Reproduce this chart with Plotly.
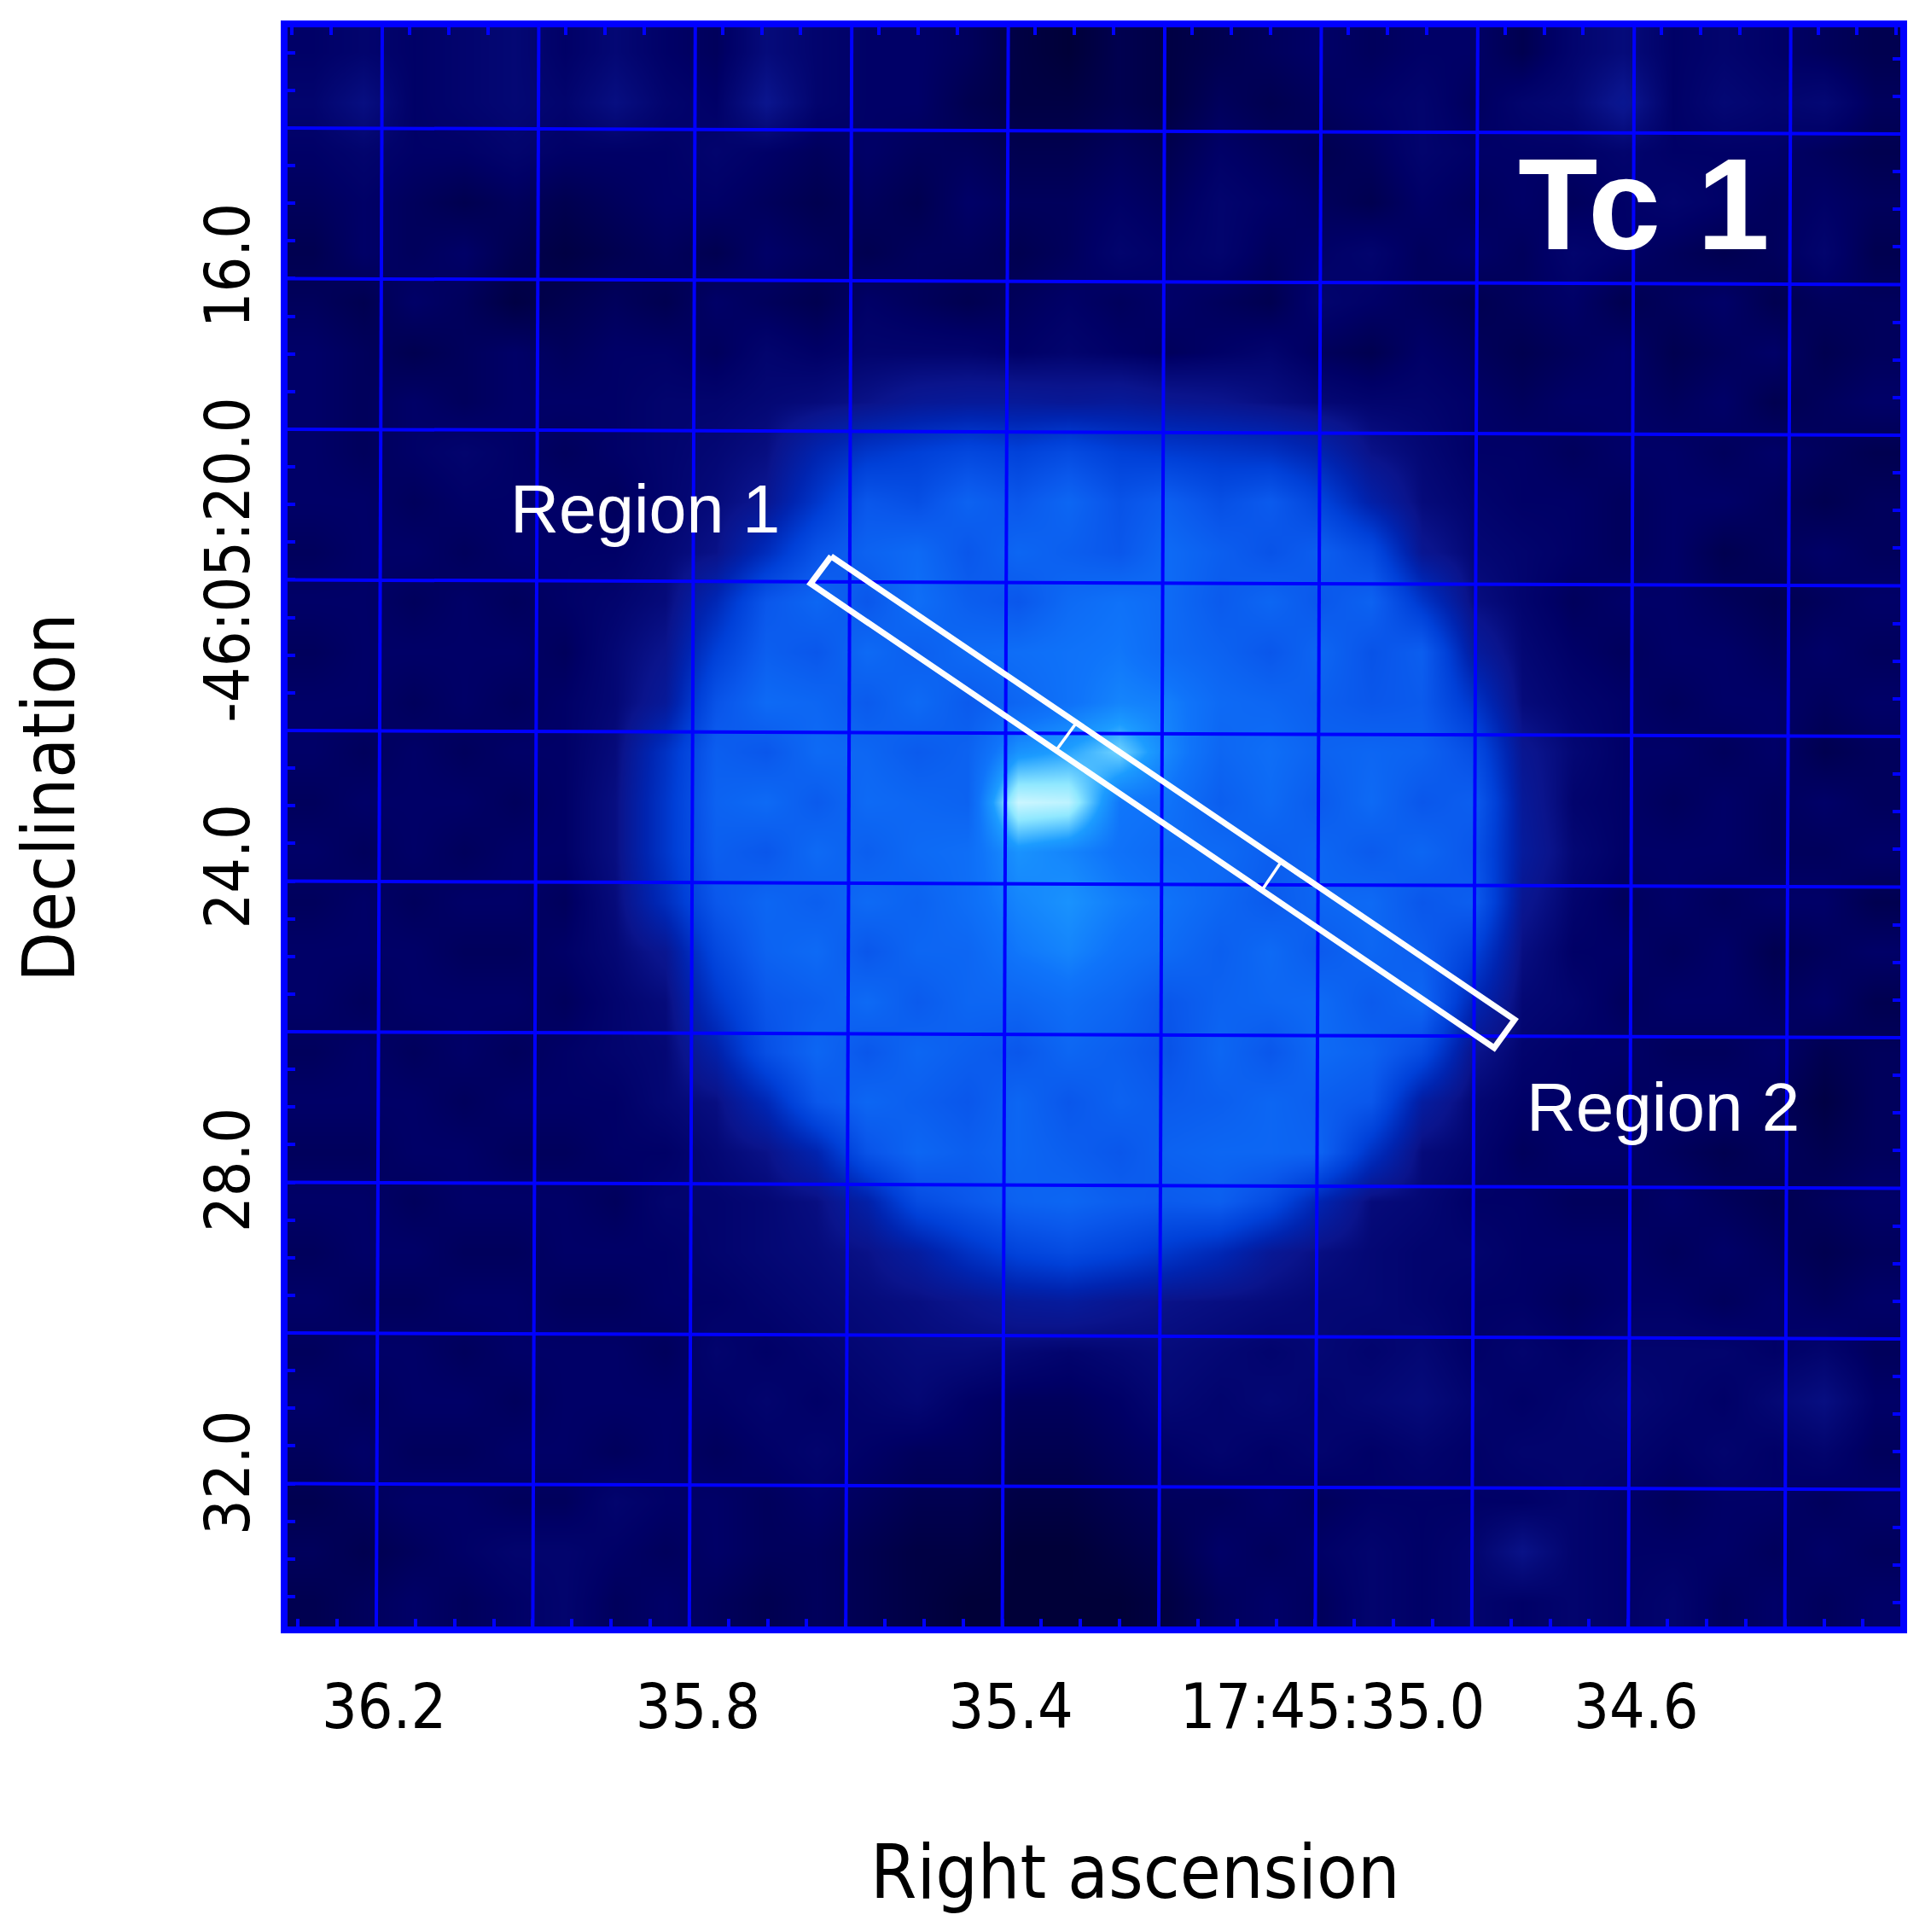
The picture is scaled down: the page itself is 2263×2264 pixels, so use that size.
# Tc 1 nebula image with tilted sky grid
import plotly.graph_objects as go

# -------------------------------
# Values
# -------------------------------
ra_ticks = [36.190, 35.789, 35.389, 34.978, 34.590]
ra_labels = ["36.2", "35.8", "35.4", "17:45:35.0", "34.6"]
dec_ticks = [15.95, 19.86, 23.93, 27.96, 31.98]
dec_labels = ["16.0", "-46:05:20.0", "24.0", "28.0", "32.0"]

ra_grid = [36.2, 36.0, 35.8, 35.6, 35.4, 35.2, 35.0, 34.8, 34.6, 34.4]
dec_grid = [14.0, 16.0, 18.0, 20.0, 22.0, 24.0, 26.0, 28.0, 30.0, 32.0]

region_ra = [35.6188, 34.7453, 34.7714, 35.6449, 35.6188]
region_dec = [19.688, 25.841, 26.215, 20.051, 19.688]
divider1_ra = [35.3069, 35.3309]
divider1_dec = [21.921, 22.261]
divider2_ra = [35.0451, 35.0680]
divider2_dec = [23.768, 24.119]

# brightness, top row first, left column first
brightness = [
    [7, 8, 7, 8, 9, 7, 9, 7, 6, 10, 8, 7, 7, 6, 4, 3, 5, 4, 5, 6, 7, 6, 7, 7, 5, 8, 10, 7, 8, 7, 6, 5],
    [8, 11, 7, 8, 9, 8, 11, 8, 7, 13, 8, 7, 7, 5, 4, 4, 5, 4, 6, 5, 6, 7, 8, 6, 8, 9, 14, 7, 9, 8, 9, 6],
    [7, 8, 7, 7, 8, 7, 7, 7, 8, 7, 6, 7, 6, 6, 5, 5, 6, 5, 7, 6, 5, 6, 8, 7, 7, 7, 8, 7, 7, 7, 6, 5],
    [6, 7, 6, 5, 6, 5, 6, 7, 7, 6, 5, 6, 5, 7, 6, 6, 7, 6, 8, 7, 6, 5, 7, 6, 7, 6, 7, 8, 7, 6, 7, 6],
    [5, 7, 6, 7, 5, 4, 5, 6, 5, 7, 6, 5, 6, 6, 5, 6, 8, 7, 8, 6, 7, 8, 6, 7, 6, 8, 7, 6, 5, 6, 8, 5],
    [6, 5, 7, 6, 4, 5, 6, 5, 7, 6, 5, 7, 6, 5, 6, 7, 6, 7, 6, 5, 8, 7, 6, 5, 6, 7, 5, 6, 7, 5, 6, 6],
    [7, 6, 5, 6, 7, 6, 7, 7, 6, 8, 7, 8, 8, 8, 7, 8, 7, 6, 7, 8, 6, 5, 7, 6, 5, 6, 7, 5, 6, 7, 5, 6],
    [7, 6, 7, 6, 7, 7, 7, 8, 8, 9, 10, 12, 15, 16, 16, 15, 16, 14, 13, 11, 9, 8, 8, 7, 6, 7, 7, 6, 7, 5, 6, 7],
    [7, 6, 7, 8, 7, 6, 7, 8, 9, 11, 22, 30, 34, 38, 35, 40, 34, 32, 30, 28, 22, 12, 9, 7, 7, 6, 7, 7, 6, 7, 6, 5],
    [7, 7, 6, 7, 7, 7, 6, 8, 10, 14, 30, 46, 42, 52, 46, 54, 44, 50, 42, 48, 36, 20, 10, 8, 7, 7, 6, 7, 7, 6, 5, 6],
    [6, 7, 7, 6, 7, 7, 7, 9, 12, 26, 44, 52, 56, 46, 54, 50, 46, 56, 50, 44, 50, 40, 14, 9, 8, 7, 6, 7, 5, 6, 7, 6],
    [7, 7, 6, 7, 6, 7, 8, 10, 24, 46, 54, 46, 58, 50, 46, 56, 60, 56, 48, 54, 46, 52, 30, 11, 8, 6, 7, 7, 6, 5, 6, 7],
    [6, 7, 7, 7, 7, 6, 9, 13, 34, 50, 46, 56, 50, 56, 58, 60, 62, 56, 52, 46, 54, 44, 50, 18, 9, 7, 6, 7, 7, 6, 7, 6],
    [7, 7, 6, 7, 6, 7, 9, 16, 44, 56, 54, 48, 56, 48, 54, 60, 66, 64, 56, 54, 50, 46, 48, 30, 10, 8, 7, 6, 7, 7, 6, 7],
    [7, 6, 7, 6, 7, 7, 10, 28, 50, 46, 56, 54, 48, 52, 70, 74, 82, 66, 54, 58, 52, 54, 52, 42, 14, 9, 7, 7, 6, 7, 5, 6],
    [6, 7, 7, 7, 6, 7, 11, 30, 52, 56, 48, 56, 54, 52, 94, 92, 62, 60, 50, 56, 48, 56, 46, 50, 16, 8, 7, 6, 7, 6, 7, 6],
    [7, 6, 7, 6, 7, 7, 11, 30, 50, 46, 56, 50, 56, 58, 70, 66, 60, 56, 56, 50, 54, 48, 54, 46, 17, 9, 7, 7, 7, 6, 6, 7],
    [6, 7, 6, 7, 7, 6, 10, 26, 46, 54, 50, 56, 52, 58, 66, 70, 64, 60, 54, 48, 54, 56, 46, 50, 14, 8, 6, 7, 6, 7, 7, 5],
    [7, 7, 7, 6, 6, 7, 9, 14, 38, 52, 56, 46, 54, 54, 62, 66, 60, 56, 50, 56, 48, 54, 50, 36, 11, 7, 7, 6, 7, 5, 6, 7],
    [7, 6, 7, 7, 7, 6, 8, 10, 30, 46, 50, 56, 48, 54, 54, 58, 54, 46, 52, 54, 56, 48, 54, 24, 9, 8, 6, 7, 7, 6, 7, 5],
    [6, 7, 6, 7, 6, 7, 8, 9, 20, 42, 54, 46, 54, 50, 46, 54, 50, 44, 54, 46, 56, 52, 40, 13, 8, 7, 7, 6, 6, 7, 5, 6],
    [7, 7, 7, 6, 7, 7, 7, 9, 11, 24, 46, 54, 50, 46, 54, 46, 52, 48, 50, 54, 50, 46, 18, 9, 7, 7, 6, 7, 7, 6, 4, 6],
    [6, 6, 7, 7, 6, 6, 7, 7, 9, 12, 22, 44, 54, 50, 54, 50, 46, 52, 54, 54, 52, 28, 10, 8, 6, 7, 7, 6, 5, 6, 5, 6],
    [7, 7, 6, 7, 7, 7, 6, 8, 8, 9, 11, 20, 40, 46, 52, 54, 50, 48, 50, 40, 22, 10, 9, 7, 7, 6, 6, 7, 6, 5, 6, 7],
    [6, 7, 7, 6, 6, 7, 7, 7, 8, 9, 10, 12, 18, 28, 36, 40, 36, 30, 24, 15, 11, 9, 8, 8, 7, 7, 7, 6, 7, 6, 5, 6],
    [7, 6, 6, 7, 7, 6, 6, 7, 7, 8, 9, 10, 11, 13, 16, 17, 14, 12, 11, 10, 9, 9, 8, 7, 7, 6, 7, 7, 6, 7, 6, 7],
    [6, 7, 7, 6, 7, 7, 7, 6, 8, 7, 8, 9, 10, 10, 9, 8, 9, 10, 9, 8, 9, 8, 9, 7, 8, 7, 8, 8, 8, 7, 8, 6],
    [7, 6, 7, 7, 6, 7, 7, 7, 7, 8, 7, 8, 9, 7, 6, 6, 7, 9, 8, 9, 8, 9, 10, 8, 7, 8, 9, 8, 7, 9, 11, 7],
    [6, 7, 6, 6, 7, 7, 6, 7, 6, 7, 8, 7, 6, 6, 5, 5, 6, 7, 8, 7, 8, 7, 8, 7, 8, 8, 8, 7, 8, 7, 8, 6],
    [5, 6, 7, 7, 6, 6, 8, 7, 7, 6, 7, 6, 5, 5, 4, 4, 5, 6, 6, 7, 6, 7, 7, 7, 7, 8, 7, 6, 7, 7, 6, 7],
    [6, 5, 6, 7, 8, 8, 7, 6, 7, 6, 6, 5, 4, 4, 3, 3, 4, 5, 7, 6, 7, 8, 7, 8, 12, 8, 7, 7, 7, 6, 7, 6],
    [5, 6, 7, 6, 7, 8, 6, 7, 6, 5, 6, 5, 4, 3, 3, 3, 3, 4, 6, 7, 6, 8, 7, 8, 7, 8, 7, 8, 6, 7, 6, 7],
]

colorscale = [
    [0.00, "#000038"],
    [0.04, "#000066"],
    [0.10, "#0a148c"],
    [0.20, "#0024b0"],
    [0.32, "#0040d8"],
    [0.45, "#0a58ec"],
    [0.60, "#0f74fa"],
    [0.72, "#1c9cff"],
    [0.85, "#90e8ff"],
    [1.00, "#f4ffff"],
]

# axis window, sky grid tilt (grid is slightly rotated against the frame)
ra_left, ra_right = 36.3134, 34.2524
dec_top, dec_bottom = 12.663, 33.898
ra_shift = 7 / 917
dec_shift = 7 / 88.25

n_rows, n_cols = len(brightness), len(brightness[0])
dx = (ra_right - ra_left) / n_cols
dy = (dec_bottom - dec_top) / n_rows
x_centres = [ra_left + dx * (i + 0.5) for i in range(n_cols)]
y_centres = [dec_top + dy * (i + 0.5) for i in range(n_rows)]

fig = go.Figure()
fig.add_trace(go.Heatmap(
    x=x_centres, y=y_centres, z=brightness, zmin=3, zmax=100,
    colorscale=colorscale, zsmooth="best", showscale=False, hoverinfo="skip",
))

# grid lines
grid_x, grid_y = [], []
for ra in ra_grid:
    grid_x += [ra, ra - ra_shift, None]
    grid_y += [dec_bottom, dec_top, None]
for dec in dec_grid:
    grid_x += [ra_left, ra_right, None]
    grid_y += [dec, dec + dec_shift, None]
fig.add_trace(go.Scatter(
    x=grid_x, y=grid_y, mode="lines", line=dict(color="#0000ff", width=4),
    hoverinfo="skip", showlegend=False,
))

# region slit
fig.add_trace(go.Scatter(
    x=region_ra, y=region_dec, mode="lines", line=dict(color="white", width=7),
    hoverinfo="skip", showlegend=False,
))
for xs, ys in [(divider1_ra, divider1_dec), (divider2_ra, divider2_dec)]:
    fig.add_trace(go.Scatter(
        x=xs, y=ys, mode="lines", line=dict(color="white", width=3.5),
        hoverinfo="skip", showlegend=False,
    ))

# empty trace so the top/right tick axes get drawn
fig.add_trace(go.Scatter(x=[None], y=[None], xaxis="x2", yaxis="y2", hoverinfo="skip", showlegend=False))

condensed = "DejaVu Sans Condensed, DejaVu Sans"
axis_font = dict(family=condensed, size=73, color="black")
minor_ticks = dict(ticks="inside", ticklen=9, tickwidth=4, tickcolor="#0000ff", showgrid=False)

fig.update_layout(
    xaxis=dict(
        range=[ra_left, ra_right], tickvals=ra_ticks, ticktext=ra_labels, ticks="",
        tickfont=axis_font, showgrid=False, zeroline=False, showline=True, linecolor="#0000ff",
        linewidth=8, mirror=True, ticklabelstandoff=23,
        minor=dict(dtick=0.05, tick0=36.2, **minor_ticks),
    ),
    yaxis=dict(
        range=[dec_bottom, dec_top], tickvals=dec_ticks, ticktext=dec_labels, ticks="",
        tickfont=axis_font, tickangle=-90, showgrid=False, zeroline=False, showline=True,
        linecolor="#0000ff", linewidth=8, mirror=True, ticklabelstandoff=8,
        minor=dict(dtick=0.5, tick0=16.0, **minor_ticks),
    ),
    xaxis2=dict(
        overlaying="x", side="top", range=[ra_left - ra_shift, ra_right - ra_shift],
        showticklabels=False, ticks="", showgrid=False, zeroline=False, dtick=0.2, tick0=36.2,
        minor=dict(dtick=0.05, tick0=36.2, **minor_ticks),
    ),
    yaxis2=dict(
        overlaying="y", side="right", range=[dec_bottom - dec_shift, dec_top - dec_shift],
        showticklabels=False, ticks="", showgrid=False, zeroline=False, dtick=2, tick0=16.0,
        minor=dict(dtick=0.5, tick0=16.0, **minor_ticks),
    ),
    width=2247, height=2248, autosize=False,
    margin=dict(l=329, r=28, t=24, b=350),
    paper_bgcolor="white", plot_bgcolor="#000038", showlegend=False,
    annotations=[
        dict(text="Region 1", x=35.856, y=19.065, xref="x", yref="y", showarrow=False,
             font=dict(family="Liberation Sans", size=79, color="white")),
        dict(text="Region 2", x=34.5555, y=27.0, xref="x", yref="y", showarrow=False,
             font=dict(family="Liberation Sans", size=80, color="white")),
        dict(text="<b>Tc 1</b>", x=34.5806, y=15.0, xref="x", yref="y", showarrow=False,
             font=dict(family="Liberation Sans", size=153, color="white")),
        dict(text="Right ascension", x=0.5254, y=-0.1538, xref="paper", yref="paper",
             xanchor="center", yanchor="middle", showarrow=False,
             font=dict(family=condensed, size=87, color="black")),
        dict(text="Declination", x=-0.1480, y=0.5184, xref="paper", yref="paper", textangle=-90,
             xanchor="center", yanchor="middle", showarrow=False,
             font=dict(family=condensed, size=85, color="black")),
    ],
)

fig.write_html("out.html")
